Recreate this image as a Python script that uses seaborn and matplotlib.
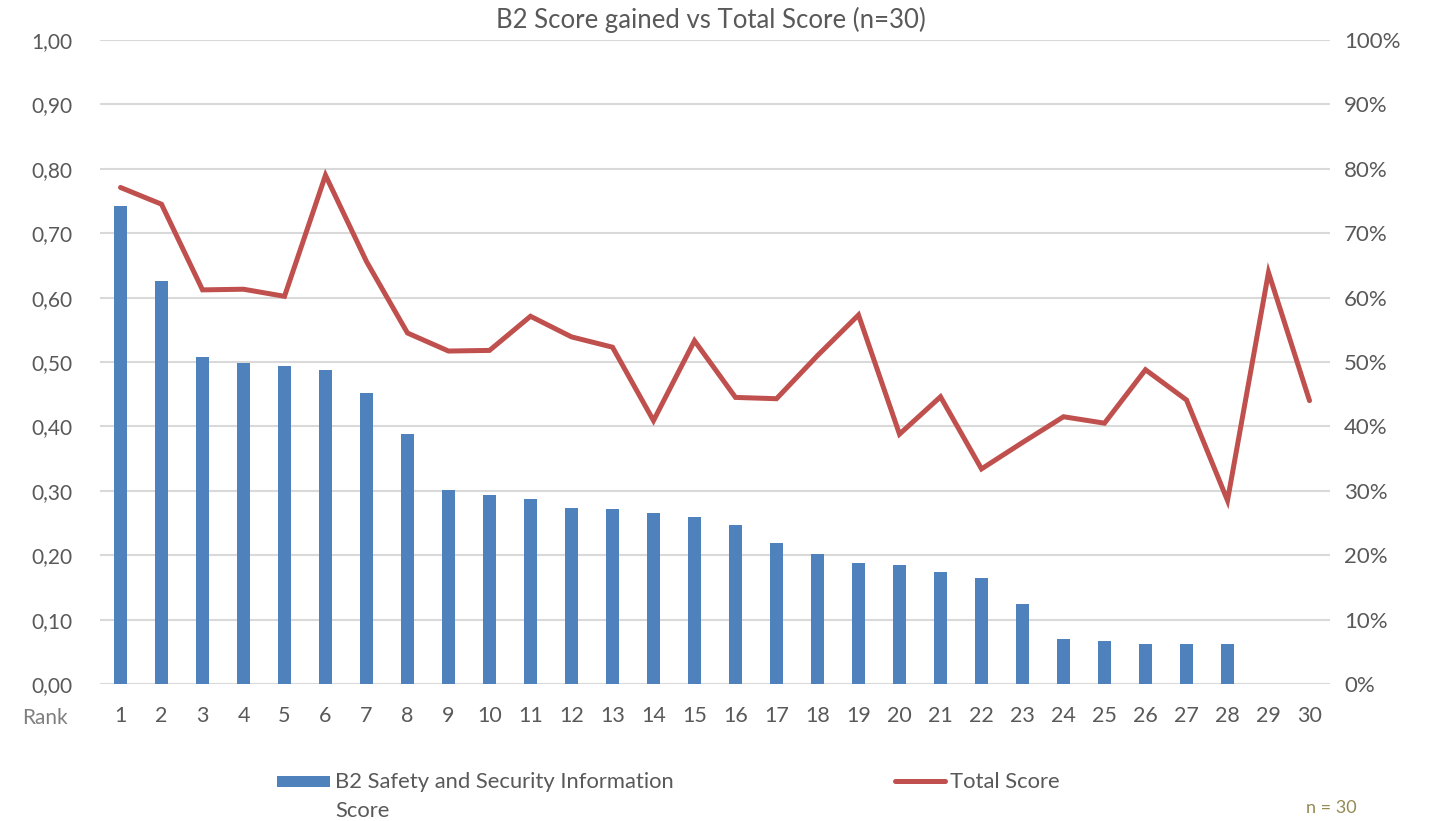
import matplotlib
matplotlib.use("Agg")
import matplotlib.pyplot as plt
import seaborn as sns
import numpy as np
import pandas as pd
from matplotlib.patches import Rectangle
from matplotlib.lines import Line2D
from matplotlib.ticker import FuncFormatter

ranks = [str(i) for i in range(1, 31)]
b2_score = [0.742, 0.626, 0.508, 0.498, 0.494, 0.488, 0.452, 0.388, 0.302, 0.294,
            0.287, 0.274, 0.272, 0.266, 0.259, 0.247, 0.219, 0.202, 0.188, 0.185,
            0.174, 0.164, 0.125, 0.070, 0.067, 0.062, 0.062, 0.062, 0.0, 0.0]
total_score = [0.771, 0.745, 0.612, 0.613, 0.602, 0.790, 0.656, 0.545, 0.517, 0.518,
               0.571, 0.539, 0.523, 0.409, 0.533, 0.445, 0.443, 0.510, 0.573, 0.388,
               0.446, 0.334, 0.375, 0.415, 0.405, 0.488, 0.441, 0.285, 0.639, 0.440]
left_ticks = [0.0, 0.1, 0.2, 0.3, 0.4, 0.5, 0.6, 0.7, 0.8, 0.9, 1.0]
title = "B2 Score gained vs Total Score (n=30)"
bar_label = "B2 Safety and Security Information\nScore"
line_label = "Total Score"

BLUE = "#4F81BD"
RED = "#C0504D"
GRAY = "#595959"
GRID = "#D9D9D9"

sns.set_theme(style="white")
plt.rcParams['font.family'] = ['Lato', 'DejaVu Sans']

W, H = 1430, 821
fig = plt.figure(figsize=(W/100, H/100), dpi=100)
ax = fig.add_axes([100/W, 1-684/H, 1230/W, 644/H])

df = pd.DataFrame({"rank": ranks, "b2": b2_score, "total": total_score})
df["pos"] = np.arange(len(df))

sns.barplot(data=df, x="rank", y="b2", color=BLUE, width=0.32, ax=ax,
            saturation=1, edgecolor="none")
ax.set_xlim(-0.5, len(ranks) - 0.5)
ax.set_ylim(0, 1.0)
ax.set_yticks(left_ticks)
ax.yaxis.set_major_formatter(FuncFormatter(lambda v, p: f"{v:.2f}".replace(".", ",")))
ax.set_axisbelow(True)
ax.grid(axis="y", color=GRID, linewidth=1.5)
ax.grid(axis="x", visible=False)
for s in ax.spines.values():
    s.set_visible(False)
ax.tick_params(axis="y", length=0, labelsize=15, labelcolor=GRAY, pad=20)
ax.tick_params(axis="x", length=0, labelsize=15.5, labelcolor=GRAY, pad=16)
ax.set_xlabel("")
ax.set_ylabel("")

ax2 = ax.twinx()
sns.lineplot(data=df, x="pos", y="total", color=RED, linewidth=3.6, ax=ax2,
             solid_capstyle="round", solid_joinstyle="miter")
ax2.set_xlim(-0.5, len(ranks) - 0.5)
ax2.set_ylim(0, 1.0)
ax2.set_yticks(left_ticks)
ax2.yaxis.set_major_formatter(FuncFormatter(lambda v, p: f"{v*100:.0f}%"))
ax2.tick_params(axis="y", length=0, labelsize=16, labelcolor=GRAY, pad=10)
ax2.set_xlabel("")
ax2.set_ylabel("")
ax2.grid(False)
for s in ax2.spines.values():
    s.set_visible(False)

fig.text(711/W, 1-20/H, title, ha="center", va="center", fontsize=18.5, color=GRAY)
fig.text(45/W, 1-718/H, "Rank", ha="center", va="center", fontsize=15, color="#7F7F7F")
fig.text(1331/W, 1-808/H, "n = 30", ha="center", va="center", fontsize=13, color="#948A54")

# legend
fig.add_artist(Rectangle((277/W, 1-787/H), 53/W, 11/H, transform=fig.transFigure,
                         facecolor=BLUE, edgecolor="none"))
fig.text(335/W, 1-772/H, bar_label, ha="left", va="top", fontsize=15.8, color=GRAY,
         linespacing=1.55)
fig.add_artist(Line2D([895/W, 945/W], [1-781/H, 1-781/H], transform=fig.transFigure,
                      color=RED, linewidth=3.6, solid_capstyle="round"))
fig.text(950/W, 1-782/H, line_label, ha="left", va="center", fontsize=15.8, color=GRAY)

fig.savefig("out.png", dpi=100)
